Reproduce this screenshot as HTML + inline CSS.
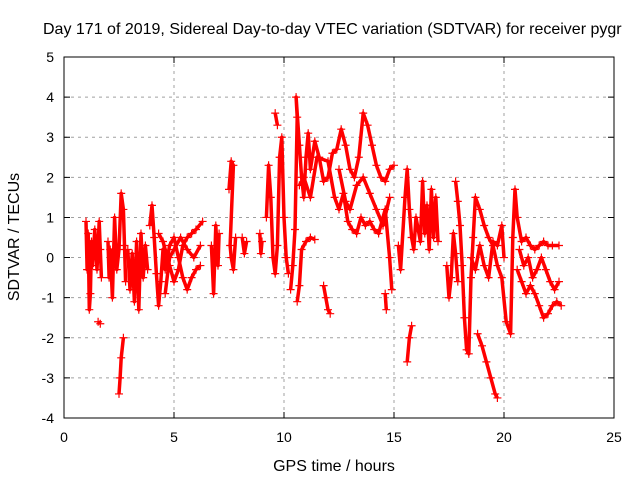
<!DOCTYPE html>
<html><head><meta charset="utf-8"><style>
body{margin:0;background:#fff;}
svg{display:block;font-family:"Liberation Sans",sans-serif;}
</style></head><body>
<svg id="chart" width="640" height="480" viewBox="0 0 640 480">
<rect width="640" height="480" fill="#fff"/>
<text x="43" y="34" font-size="16" fill="#000">Day 171 of 2019, Sidereal Day-to-day VTEC variation (SDTVAR) for receiver pygr</text>
<g id="grid"></g>
<g id="axes"></g>
<g id="marks"></g>
<rect x="64" y="57" width="550" height="361" fill="none" stroke="#000" stroke-width="1"/>
<text x="334" y="471" font-size="16" text-anchor="middle">GPS time / hours</text>
<text x="0" y="0" font-size="16" text-anchor="middle" transform="translate(19,237) rotate(-90)">SDTVAR / TECUs</text>
</svg>
<script>
const xTicks=[0,5,10,15,20,25];
const yTicks=[-4,-3,-2,-1,0,1,2,3,4,5];
const tracks=[
[[1.0,0.9],[1.05,-0.3],[1.1,0.6],[1.15,-1.3],[1.2,-0.9],[1.25,0.4],[1.3,-0.2],[1.4,0.7],[1.5,-0.3],[1.6,0.9],[1.65,0.2],[1.7,-0.5]],
[[1.55,-1.6],[1.65,-1.65]],
[[2.0,0.4],[2.05,-0.5],[2.1,0.2],[2.2,-1.0],[2.3,1.0],[2.4,-0.3],[2.5,0.2],[2.6,1.6],[2.7,1.2],[2.75,0.3],[2.8,-0.6]],
[[2.5,-3.4],[2.55,-3.0],[2.6,-2.5],[2.7,-2.0]],
[[2.9,0.2],[3.0,-0.8],[3.1,0.1],[3.2,-1.1],[3.3,0.4],[3.4,-1.3],[3.5,0.6],[3.6,-0.5],[3.7,0.3],[3.8,-0.3]],
[[3.9,0.8],[4.0,1.3],[4.1,0.5],[4.2,-0.4],[4.3,-1.2],[4.4,-0.6],[4.5,0.2],[4.6,-0.3],[4.8,0.3],[5.0,0.5],[5.2,0.0],[5.4,-0.5],[5.6,-0.8],[5.8,-0.5],[6.0,-0.3],[6.2,-0.2]],
[[4.3,0.6],[4.5,0.4],[4.8,-0.2],[5.0,-0.6],[5.2,-0.3],[5.4,0.3],[5.6,0.5],[5.8,0.6],[6.0,0.7],[6.3,0.9]],
[[4.6,-0.9],[4.8,0.0],[5.0,0.2],[5.3,0.5],[5.6,0.2],[5.9,0.0],[6.2,0.3]],
[[6.7,0.3],[6.8,-0.9],[6.9,0.8],[7.0,-0.2],[7.05,0.6]],
[[7.5,1.7],[7.6,2.4],[7.7,2.3],[7.55,0.3],[7.6,0.0],[7.7,-0.3],[7.8,0.5]],
[[8.1,0.5],[8.2,0.1],[8.3,0.4]],
[[8.9,0.6],[8.95,0.1],[9.0,0.4]],
[[9.2,1.0],[9.3,2.3],[9.4,1.5],[9.5,0.0],[9.6,-0.4],[9.7,0.3],[9.8,2.5],[9.9,3.0],[10.0,1.0],[10.1,0.0],[10.2,-0.4]],
[[9.6,3.6],[9.7,3.3]],
[[10.3,-0.8],[10.4,-0.2],[10.5,0.7],[10.6,3.5],[10.55,4.0],[10.7,2.8],[10.8,2.0],[10.9,1.5],[11.0,2.5],[11.1,3.1],[11.2,2.2],[11.4,2.9],[11.6,2.5],[11.8,1.9],[12.0,2.0],[12.2,2.6],[12.4,2.7],[12.6,3.2],[12.8,2.8],[13.0,2.2],[13.2,2.0],[13.4,2.5],[13.6,3.6],[13.8,3.3],[14.0,2.8],[14.2,2.3],[14.4,2.0],[14.6,1.9],[14.8,2.2],[15.0,2.3]],
[[10.6,-1.1],[10.7,-0.7],[10.8,0.2],[11.0,0.4],[11.2,0.5],[11.4,0.45]],
[[10.7,1.8],[10.9,2.0],[11.2,1.5],[11.5,2.5],[12.0,2.4],[12.3,1.5],[12.5,1.2],[12.7,1.6],[12.9,0.9],[13.1,0.7],[13.3,0.6],[13.5,1.0],[13.7,0.8],[13.9,0.9],[14.1,0.7],[14.3,0.6],[14.6,1.2],[14.8,0.0],[14.9,-0.8]],
[[11.8,-0.7],[11.9,-1.0],[12.0,-1.3],[12.1,-1.4]],
[[12.5,2.2],[12.8,1.4],[13.0,1.2],[13.3,1.8],[13.6,2.0],[13.9,1.6],[14.2,1.2],[14.5,0.8],[14.8,1.5]],
[[14.6,-0.9],[14.65,-1.3]],
[[15.2,0.3],[15.3,-0.3],[15.5,1.5],[15.6,2.2],[15.7,1.2],[15.8,0.5],[15.9,0.2],[16.0,1.0],[16.2,0.4],[16.3,1.9],[16.4,0.6],[16.5,1.3],[16.6,0.2],[16.7,1.7],[16.8,0.5],[16.9,1.5],[17.0,0.4]],
[[15.6,-2.6],[15.7,-2.0],[15.8,-1.7]],
[[17.4,-0.2],[17.5,-1.0],[17.6,-0.5],[17.7,0.6],[17.8,0.1],[17.9,-0.6]],
[[17.8,1.9],[17.9,1.4],[18.0,0.8],[18.1,-0.2],[18.2,-1.5],[18.3,-2.3],[18.4,-2.4],[18.5,-0.5],[18.6,0.5],[18.7,1.5],[18.9,1.2],[19.1,0.8],[19.3,0.5],[19.5,0.3],[19.7,-0.2],[19.9,-0.5],[20.1,-1.6],[20.3,-1.9],[20.4,0.5],[20.5,1.7],[20.6,1.0],[20.8,0.4],[21.0,0.5],[21.2,0.3],[21.4,0.2],[21.6,0.3],[21.8,0.4],[22.0,0.3],[22.2,0.3],[22.5,0.3]],
[[18.5,0.0],[18.7,-0.3],[18.9,0.3],[19.1,-0.2],[19.3,-0.5],[19.5,0.4],[19.7,0.3],[19.9,0.8],[20.0,0.0]],
[[18.8,-1.9],[19.0,-2.2],[19.2,-2.6],[19.4,-3.0],[19.6,-3.4],[19.7,-3.5]],
[[20.6,-0.3],[20.8,-0.6],[21.0,-0.9],[21.2,-0.7],[21.4,-0.9],[21.6,-1.2],[21.8,-1.5],[22.0,-1.4],[22.2,-1.2],[22.4,-1.1],[22.6,-1.2]],
[[20.7,0.2],[20.9,-0.2],[21.1,0.0],[21.3,-0.5],[21.5,-0.3],[21.7,0.0],[21.9,-0.3],[22.1,-0.6],[22.3,-0.8],[22.5,-0.6]]
];
const NS='http://www.w3.org/2000/svg';
const L=64,R=614,T=57,B=418,xMin=0,xMax=25,yMin=-4,yMax=5;
function xs(v){return L+(v-xMin)/(xMax-xMin)*(R-L);}
function ys(v){return B-(v-yMin)/(yMax-yMin)*(B-T);}
function mk(tag,attrs,parent){const e=document.createElementNS(NS,tag);for(const k in attrs)e.setAttribute(k,attrs[k]);parent.appendChild(e);return e;}
const grid=document.getElementById('grid'),axes=document.getElementById('axes'),marks=document.getElementById('marks');
xTicks.forEach(t=>{const x=xs(t);
 if(t>xMin&&t<xMax){const g=mk('line',{x1:x,y1:T,x2:x,y2:B,stroke:'#a0a0a0','stroke-dasharray':'3,4'},grid);
 
 }
 const tk=mk('path',{d:`M${x},${B}v-6M${x},${T}v6`,stroke:'#000'},axes);
 
 
 const lb=mk('text',{x:x,y:B+24,'font-size':14,'text-anchor':'middle'},axes);lb.textContent=t;
 
 
});
yTicks.forEach(t=>{const y=ys(t);
 if(t>yMin&&t<yMax){const g=mk('line',{x1:L,y1:y,x2:R,y2:y,stroke:'#a0a0a0','stroke-dasharray':'3,4'},grid);
 
 }
 const tk=mk('path',{d:`M${L},${y}h6M${R},${y}h-6`,stroke:'#000'},axes);
 
 
 const lb=mk('text',{x:L-10,y:y+5,'font-size':14,'text-anchor':'end'},axes);lb.textContent=t;
 
 
});
tracks.forEach(tr=>{
 const pl=mk('polyline',{points:tr.map(p=>xs(p[0])+','+ys(p[1])).join(' '),fill:'none',stroke:'#ff0000','stroke-width':3.5,'stroke-linejoin':'round'},marks);
 
 
 tr.forEach(p=>{const x=xs(p[0]),y=ys(p[1]);
  const m=mk('path',{d:`M${x-4},${y}h8M${x},${y-4}v8`,stroke:'#ff0000','stroke-width':1.2},marks);
  
  
 });
});
</script>
</body></html>
